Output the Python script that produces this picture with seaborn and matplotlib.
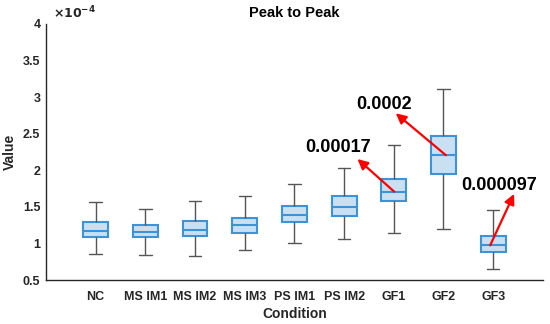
import pandas as pd
import matplotlib
matplotlib.use("Agg")
import matplotlib.pyplot as plt
import seaborn as sns

# === DATA (values in units of 1e-4) ===
conditions = ["NC", "MS IM1", "MS IM2", "MS IM3", "PS IM1", "PS IM2", "GF1", "GF2", "GF3"]
whisker_low = [0.855, 0.846, 0.832, 0.914, 1.006, 1.065, 1.142, 1.201, 0.646]
q1 = [1.088, 1.092, 1.101, 1.147, 1.293, 1.375, 1.584, 1.953, 0.883]
median = [1.174, 1.160, 1.188, 1.248, 1.393, 1.498, 1.707, 2.205, 0.974]
q3 = [1.289, 1.256, 1.311, 1.348, 1.516, 1.653, 1.885, 2.473, 1.106]
whisker_high = [1.566, 1.475, 1.580, 1.653, 1.817, 2.031, 2.346, 3.107, 1.453]

notes = ["0.00017", "0.0002", "0.000097"]
note_groups = ["GF1", "GF2", "GF3"]

# five-number summary per group -> long table for seaborn
rows = []
for i, c in enumerate(conditions):
    for v in (whisker_low[i], q1[i], median[i], q3[i], whisker_high[i]):
        rows.append({"Condition": c, "Value": v})
df = pd.DataFrame(rows)

# === STYLE ===
sns.set_style("white")
plt.rcParams["font.family"] = ["Liberation Sans", "DejaVu Sans"]
plt.rcParams["font.weight"] = "bold"

FACE = "#c9e0f3"
EDGE = "#3c93d8"
WHISK = "#555555"
AXC = "#262626"

fig = plt.figure(figsize=(5.5, 3.24), dpi=100)
ax = fig.add_axes([0.0836, 0.1358, 0.9034, 0.7902])

sns.boxplot(data=df, x="Condition", y="Value", order=conditions, ax=ax,
            width=0.5, whis=(0, 100), saturation=1, color=FACE,
            linecolor=EDGE, linewidth=1.5, showfliers=False,
            whiskerprops=dict(color=WHISK, linewidth=1),
            capprops=dict(color=WHISK, linewidth=1),
            medianprops=dict(color=EDGE, linewidth=1.5))

ax.set_xlim(-1, 9)
ax.set_ylim(0.5, 4)
ax.set_yticks([0.5, 1, 1.5, 2, 2.5, 3, 3.5, 4])
ax.set_yticklabels(["0.5", "1", "1.5", "2", "2.5", "3", "3.5", "4"])

for s in ["top", "right"]:
    ax.spines[s].set_visible(False)
for s in ["left", "bottom"]:
    ax.spines[s].set_color(AXC)
    ax.spines[s].set_linewidth(1)

ax.tick_params(axis="both", direction="in", length=4, width=1, color=AXC,
               labelsize=9, labelcolor=AXC)
ax.tick_params(axis="x", pad=8)
ax.tick_params(axis="y", pad=4)
for lab in ax.get_xticklabels() + ax.get_yticklabels():
    lab.set_fontweight("bold")

ax.set_xlabel("Condition", fontsize=10, fontweight="bold", color=AXC, labelpad=3)
ax.set_ylabel("Value", fontsize=10, fontweight="bold", color=AXC)
ax.yaxis.set_label_coords(-0.058, 0.5)
ax.set_title("Peak to Peak", fontsize=10.5, fontweight="bold", color="black", pad=5)
ax.text(0.015, 1.01, r"$\times\mathbf{10^{-4}}$", transform=ax.transAxes,
        fontsize=9, color=AXC, ha="left", va="bottom")

# === ANNOTATIONS ===
arrow_heads = {"GF1": (5.27, 2.154), "GF2": (6.04, 2.779), "GF3": (8.42, 1.676)}
text_pos = {"GF1": (4.88, 2.305), "GF2": (5.81, 2.893), "GF3": (8.11, 1.795)}
tail_dx = {"GF1": 0.01, "GF2": 0.05, "GF3": -0.06}
for label, g in zip(notes, note_groups):
    i = conditions.index(g)
    ax.annotate("", xy=arrow_heads[g], xytext=(i + tail_dx[g], median[i]),
                arrowprops=dict(arrowstyle="-|>,head_length=0.6,head_width=0.3",
                                color="red", lw=1.6, shrinkA=0, shrinkB=0))
    ax.text(*text_pos[g], label, fontsize=13, fontweight="bold", color="black",
            ha="center", va="center")

plt.savefig("out.png", dpi=100)
